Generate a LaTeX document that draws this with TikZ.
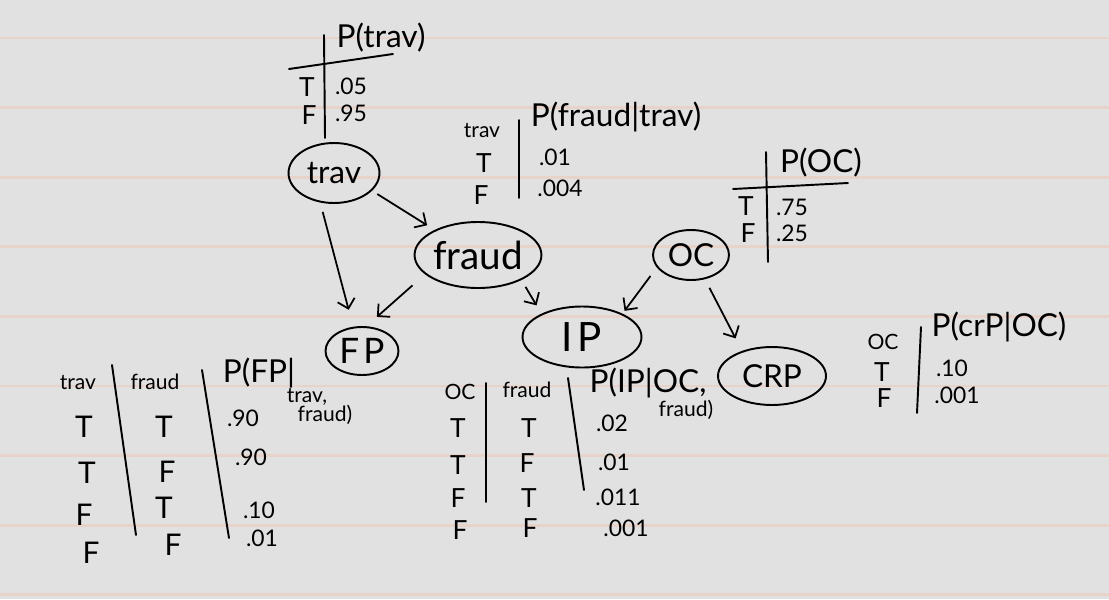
\documentclass[tikz,border=0pt]{standalone}
\usepackage{fontspec}
\setmainfont{Lato}
\usetikzlibrary{shapes.geometric,arrows.meta}
\definecolor{paper}{HTML}{E1E1E1}
\definecolor{ruling}{HTML}{E8D3CB}

\begin{document}
\begin{tikzpicture}[x=0.02cm,y=-0.02cm,
  rv/.style={ellipse,draw,line width=1.1pt,inner sep=0pt,font=\fontsize{18}{20}\selectfont},
  head/.style={inner sep=0pt,font=\fontsize{18}{20}\selectfont},
  cpt/.style={inner sep=0pt,font=\fontsize{15}{17}\selectfont},
  big/.style={inner sep=0pt,font=\fontsize{17}{19}\selectfont},
  val/.style={inner sep=0pt,font=\fontsize{13}{15}\selectfont},
  hdr/.style={inner sep=0pt,font=\fontsize{12}{14}\selectfont},
  tiny/.style={inner sep=0pt,font=\fontsize{12}{13}\selectfont},
  rule/.style={line width=1.1pt,line cap=round},
  dep/.style={line width=1pt,-{Straight Barb[length=5pt,width=10pt]}}]
\useasboundingbox (0,0) rectangle (1109,599);
\fill[paper] (0,0) rectangle (1109,599);
\foreach \k in {0,...,8}
  \draw[ruling,line width=1.5pt] (0,{38+69.6*\k}) -- (1109,{38+69.6*\k});

% variables
\node[rv,minimum width=1.82cm,minimum height=1.2cm] (trav) at (334,173) {trav};
\node[rv,minimum width=2.18cm,minimum height=1.32cm,font=\fontsize{22}{24}\selectfont] (fraud) at (478,255) {fraud};
\node[rv,minimum width=1.52cm,minimum height=1.0cm] (oc) at (691,255) {OC};
\node[rv,minimum width=1.46cm,minimum height=0.96cm,font=\fontsize{20}{22}\selectfont] (fp) at (362,351) {F\hspace{0.12em}P};
\node[rv,minimum width=2.38cm,minimum height=1.22cm,font=\fontsize{23}{25}\selectfont] (ip) at (582,337) {I\hspace{0.12em}P};
\node[rv,minimum width=2.16cm,minimum height=1.16cm] (crp) at (772,376) {CRP};

% dependencies
\draw[dep,shorten <=3.5pt,shorten >=5pt] (trav.-25) -- (fraud.150);
\draw[dep,shorten <=5.5pt,shorten >=10pt] (trav.245) -- (fp.110);
\draw[dep,shorten <=9.5pt,shorten >=8pt] (fraud.200) -- (fp.80);
\draw[dep,shorten <=4.5pt,shorten >=5.5pt] (fraud.330) -- (ip.150);
\draw[dep,shorten <=6pt,shorten >=2pt] (oc.200) -- (ip.30);
\draw[dep,shorten <=5.5pt,shorten >=8pt] (oc.300) -- (crp.140);

% P(trav)
\draw[rule] (324,35) -- (325,138);
\draw[rule] (289,69) -- (393,54);
\node[head] (travhead) at (381,38) {P(trav)};
\node[cpt] (travT) at (307,87) {T};
\node[cpt] (travF) at (309,115) {F};
\node[val] (travTv) at (351,86) {.05};
\node[val] (travFv) at (351,113) {.95};

% P(fraud|trav)
\draw[rule] (519,120) -- (519,198);
\node[hdr] (fraudpar) at (482,131) {trav};
\node[head] (fraudhead) at (616,117) {P(fraud|trav)};
\node[cpt] (fraudT) at (484,163) {T};
\node[cpt] (fraudF) at (481,195) {F};
\node[val] (fraudTv) at (555,157) {.01};
\node[val] (fraudFv) at (560,188) {.004};

% P(OC)
\draw[rule] (766,152) -- (768,262);
\draw[rule] (733,189) -- (848,183);
\node[head] (ochead) at (821,163) {P(OC)};
\node[cpt] (ocT) at (746,206) {T};
\node[cpt] (ocF) at (748,233) {F};
\node[val] (ocTv) at (792,207) {.75};
\node[val] (ocFv) at (792,233) {.25};

% P(FP|trav,fraud)
\draw[rule] (112,365) -- (136,535);
\draw[rule] (202,370) -- (229,538);
\node[hdr] (fppar1) at (78,383) {trav};
\node[hdr] (fppar2) at (155,382) {fraud};
\node[head] (fphead) at (259,373) {P(FP|};
\node[tiny] (fphead2) at (307,397) {trav,};
\node[tiny] (fphead3) at (325,415) {fraud)};
\node[big] (fpa1) at (84,427) {T};
\node[big] (fpb1) at (164,427) {T};
\node[big] (fpa2) at (87,473) {T};
\node[big] (fpb2) at (167,472) {F};
\node[big] (fpa3) at (84,515) {F};
\node[big] (fpb3) at (164,508) {T};
\node[big] (fpa4) at (91,553) {F};
\node[big] (fpb4) at (173,545) {F};
\node[val] (fpv1) at (243,418) {.90};
\node[val] (fpv2) at (251,457) {.90};
\node[val] (fpv3) at (259,510) {.10};
\node[val] (fpv4) at (262,538) {.01};

% P(IP|OC,fraud)
\draw[rule] (486,383) -- (486,502);
\draw[rule] (568,378) -- (584,490);
\node[hdr] (ippar1) at (460,392) {OC};
\node[hdr] (ippar2) at (527,390) {fraud};
\node[head] (iphead) at (648,383) {P(IP|OC,};
\node[tiny] (iphead2) at (686,410) {fraud)};
\node[cpt] (ipa1) at (458,428) {T};
\node[cpt] (ipb1) at (529,428) {T};
\node[cpt] (ipa2) at (458,465) {T};
\node[cpt] (ipb2) at (527,463) {F};
\node[cpt] (ipa3) at (458,498) {F};
\node[cpt] (ipb3) at (529,498) {T};
\node[cpt] (ipa4) at (460,530) {F};
\node[cpt] (ipb4) at (530,528) {F};
\node[val] (ipv1) at (612,423) {.02};
\node[val] (ipv2) at (614,462) {.01};
\node[val] (ipv3) at (618,497) {.011};
\node[val] (ipv4) at (626,528) {.001};

% P(crP|OC)
\draw[rule] (921,327) -- (917,413);
\node[hdr] (crppar) at (883,342) {OC};
\node[head] (crphead) at (999,327) {P(crP|OC)};
\node[cpt] (crpT) at (882,372) {T};
\node[cpt] (crpF) at (884,398) {F};
\node[val] (crpTv) at (952,368) {.10};
\node[val] (crpFv) at (957,395) {.001};
\end{tikzpicture}
\end{document}
